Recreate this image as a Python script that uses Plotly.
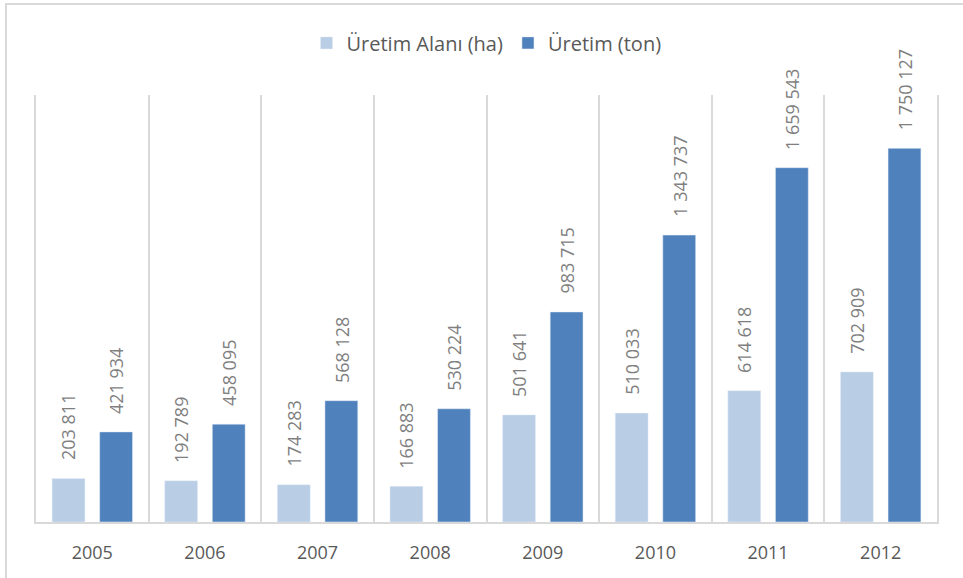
'''
    Grouped bar chart: Üretim Alanı (ha) vs Üretim (ton), 2005-2012.
'''
import plotly.graph_objects as go

years = ['2005', '2006', '2007', '2008', '2009', '2010', '2011', '2012']
uretim_alani = [203811, 192789, 174283, 166883, 501641, 510033, 614618, 702909]
uretim_ton = [421934, 458095, 568128, 530224, 983715, 1343737, 1659543, 1750127]

BARGAP = 0.155


def fmt(v):
    return f'{v:,}'.replace(',', ' ')


fig = go.Figure()

fig.add_trace(go.Bar(
    x=years,
    y=uretim_alani,
    name='Üretim Alanı (ha)',
    marker_color='#b9cde5',
))

fig.add_trace(go.Bar(
    x=years,
    y=uretim_ton,
    name='Üretim (ton)',
    marker_color='#4f81bd',
))

# value labels above the bars, rotated (x given as category index + group offset)
offset = (1 - BARGAP) / 4
for i, series in enumerate([uretim_alani, uretim_ton]):
    for idx, val in enumerate(series):
        fig.add_annotation(
            x=idx - offset if i == 0 else idx + offset,
            y=val,
            yshift=16,
            text=fmt(val),
            textangle=-90,
            showarrow=False,
            xanchor='center',
            yanchor='bottom',
            font=dict(size=18, color='#7f7f7f'),
        )

fig.update_layout(
    width=963,
    height=578,
    margin=dict(l=36, r=26, t=95, b=56),
    paper_bgcolor='white',
    plot_bgcolor='white',
    font=dict(family='Open Sans', color='#595959'),
    barmode='group',
    bargap=BARGAP,
    bargroupgap=0.31,
    showlegend=True,
    legend=dict(
        orientation='h',
        x=0.5, xanchor='center',
        y=1.122, yanchor='middle',
        font=dict(size=20, color='#595959'),
    ),
    shapes=[dict(
        type='rect', xref='paper', yref='paper',
        x0=-0.0333, x1=1.05, y0=-0.2, y1=1.213,
        line=dict(color='#d9d9d9', width=2),
        layer='below',
    )],
)

fig.update_xaxes(
    type='category',
    range=[-0.5, len(years) - 0.5],
    tickson='boundaries',
    showgrid=True,
    gridcolor='#d9d9d9',
    gridwidth=1.5,
    showline=True,
    linecolor='#d9d9d9',
    linewidth=1.5,
    ticks='',
    ticklabelstandoff=14,
    tickfont=dict(size=18, color='#595959'),
)

fig.update_yaxes(
    range=[0, 2000000],
    showticklabels=False,
    ticks='',
    showline=True,
    mirror=True,
    linecolor='#d9d9d9',
    linewidth=1.5,
    showgrid=False,
    zeroline=False,
)

# page body has a default 8px margin; remove it so the figure sits at 0,0
fig.write_html(
    'out.html',
    config={'displayModeBar': False},
    post_script="document.body.style.margin='0';",
)
